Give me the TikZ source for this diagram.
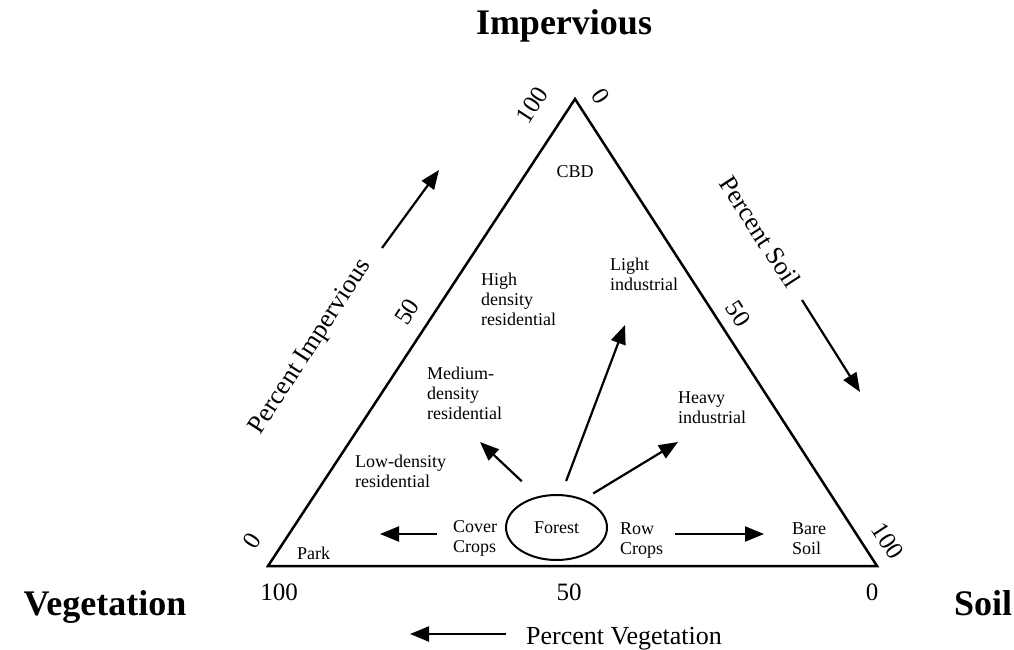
\documentclass[tikz,border=0pt]{standalone}
\usepackage{fontspec}
\setmainfont{Liberation Serif}
\usetikzlibrary{positioning,arrows.meta,shapes.geometric}
\tikzset{
    side/.style = {
        draw,
        line width=2.5pt,
        line join=miter
    },
    landuse/.style = {
        align=left,
        inner sep=0pt,
        font=\fontsize{18}{20}\selectfont
    },
    ticklabel/.style = {
        inner sep=0pt,
        font=\fontsize{25}{28}\selectfont
    },
    cornerlabel/.style = {
        inner sep=0pt,
        anchor=base,
        font=\bfseries\fontsize{36}{40}\selectfont
    },
    axislabel/.style = {
        inner sep=0pt,
        font=\fontsize{26}{30}\selectfont
    },
    hub/.style = {
        draw,
        shape=ellipse,
        inner sep=0pt,
        minimum width=101pt,
        minimum height=65pt,
        line width=2pt,
        font=\fontsize{18}{20}\selectfont
    },
    trend/.style = {
        draw,
        line width=2.2pt,
        ->
    },
    >={Triangle[length=19pt,width=15pt]},
}

\begin{document}
\begin{tikzpicture}[x=1pt,y=-1pt]
    \useasboundingbox (0,0) rectangle (1014,650);

    % the three corners
    \coordinate (imp) at (575,99);
    \coordinate (veg) at (268,566);
    \coordinate (soil) at (877,566);
    \path[side] (imp) -- (veg) -- (soil) -- cycle;

    \node[cornerlabel] (impname) at (564,35) {Impervious};
    \node[cornerlabel] (vegname) at (105,615) {Vegetation};
    \node[cornerlabel] (soilname) at (983,615) {Soil};

    % scale numbers
    \node[ticklabel] (b100) at (279,592) {100};
    \node[ticklabel] (b50) at (569,592) {50};
    \node[ticklabel] (b0) at (872,592) {0};
    \node[ticklabel, rotate=57] (l100) at (532,105) {100};
    \node[ticklabel, rotate=57] (l50) at (407,312) {50};
    \node[ticklabel, rotate=57] (l0) at (252,541) {0};
    \node[ticklabel, rotate=-57] (r0) at (601,96) {0};
    \node[ticklabel, rotate=-57] (r50) at (738,314) {50};
    \node[ticklabel, rotate=-57] (r100) at (888,541) {100};

    % axis names
    \node[axislabel, rotate=57] (pimp) at (311,347) {Percent Impervious};
    \node[axislabel, rotate=-57] (psoil) at (760,232) {Percent Soil};
    \node[axislabel, anchor=base west] (pveg) at (526,644) {Percent Vegetation};

    \coordinate (impfrom) at (382,248);
    \coordinate (impto) at (439,170);
    \coordinate (soilfrom) at (802,300);
    \coordinate (soilto) at (860,392);
    \coordinate (vegto) at (410,634);
    \path[trend] (impfrom) -- (impto);
    \path[trend] (soilfrom) -- (soilto);
    \path[trend, shorten <=20pt] (pveg.west |- vegto) -- (vegto);

    % land uses
    \node[landuse] (cbd) at (575,172) {CBD};
    \node[landuse, anchor=west] (high) at (481,299) {High\\density\\residential};
    \node[landuse, anchor=west] (light) at (610,274) {Light\\industrial};
    \node[landuse, anchor=west] (medium) at (427,393) {Medium-\\density\\residential};
    \node[landuse, anchor=west] (heavy) at (678,408) {Heavy\\industrial};
    \node[landuse, anchor=west] (low) at (355,471) {Low-density\\residential};
    \node[landuse, anchor=west] (cover) at (453,538) {Cover\\Crops};
    \node[landuse, anchor=west] (row) at (620,541) {Row\\Crops};
    \node[landuse, anchor=west] (bare) at (792,539) {Bare\\Soil};
    \node[landuse, anchor=west] (park) at (297,553) {Park};
    \node[hub] (forest) at (556.5,527.5) {Forest};

    \coordinate (medto) at (480,442);
    \coordinate (lightto) at (625,325);
    \coordinate (heavyto) at (678,442);
    \coordinate (coverto) at (380,534);
    \coordinate (rowto) at (764,534);
    \path[trend, shorten <=22pt] (forest.121) -- (medto);
    \path[trend, shorten <=14pt] (forest.82) -- (lightto);
    \path[trend, shorten <=11pt] (forest.46) -- (heavyto);
    \path[trend, shorten <=16pt] (cover.west |- coverto) -- (coverto);
    \path[trend, shorten <=12pt] (row.east |- rowto) -- (rowto);
\end{tikzpicture}
\end{document}
